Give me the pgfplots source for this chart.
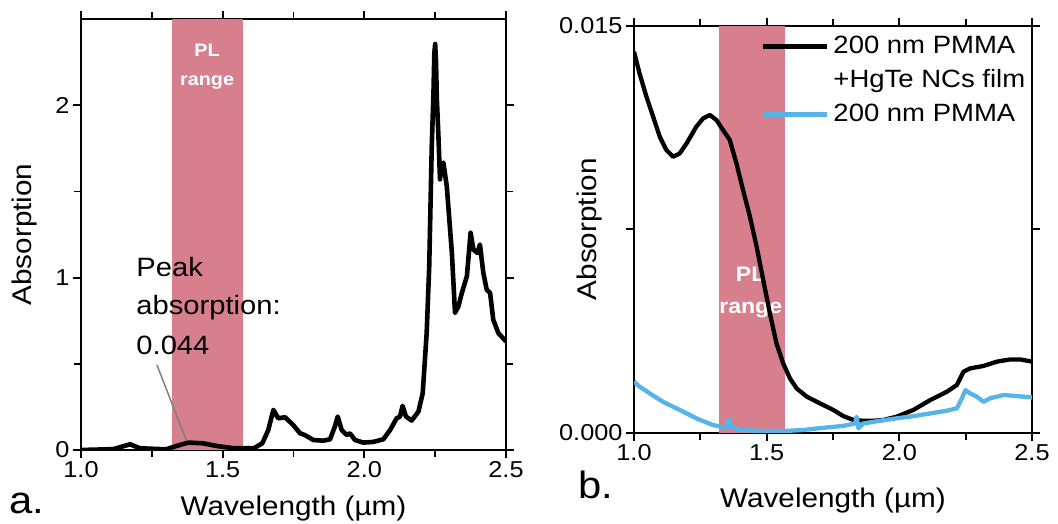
\documentclass[border=0pt]{standalone}
\usepackage{pgfplots}
\pgfplotsset{compat=1.18}
\usepackage{fontspec}
\setmainfont{Liberation Sans}[FakeStretch=1.1]
\definecolor{plcol}{RGB}{216,127,142}
\definecolor{pmma}{RGB}{86,180,233}
\definecolor{annot}{RGB}{128,128,128}

\begin{document}
\begin{tikzpicture}[x=1pt,y=1pt]
\path[use as bounding box] (0,0) rectangle (1058,523);
\pgfplotsset{
 common/.style={
  scale only axis,
  xmin=1, xmax=2.5,
  xtick={1,1.5,2,2.5},
  xticklabels={1.0,1.5,2.0,2.5},
  minor xtick={1.25,1.75,2.25},
  tick align=outside,
  major tick length=8pt, minor tick length=7pt,
  axis line style={line width=1.8pt},
  every tick/.append style={line width=1.8pt, black},
  tick label style={font=\fontsize{23}{27}\selectfont},
  label style={font=\fontsize{27}{32}\selectfont},
  xlabel={Wavelength (µm)},
  ylabel={Absorption},
  clip=true,
 }
}

% ---------------- panel a ----------------
\begin{axis}[common,
  at={(81pt,73pt)}, anchor=south west,
  width=425pt, height=431pt,
  ymin=0, ymax=2.5,
  ytick={0,1,2}, yticklabels={0,1,2},
  minor ytick={0.5,1.5},
  xlabel style={at={(axis description cs:0.5,-0.151)}, anchor=base},
  ylabel style={at={(axis description cs:-0.132,0.5)}, anchor=center},
]
\addplot[draw=none, fill=plcol, forget plot] coordinates {(1.32,2.5) (1.57,2.5)} \closedcycle;
\node[text=white, inner sep=0pt, anchor=base, font=\bfseries\fontsize{18}{20}\selectfont] at (axis cs:1.445,2.28) {PL};
\node[text=white, inner sep=0pt, anchor=base, font=\bfseries\fontsize{18}{20}\selectfont] at (axis cs:1.445,2.116) {range};
\draw[annot, line width=1.5pt] (axis cs:1.268,0.494) -- (axis cs:1.371,0.058);
\node[inner sep=0pt, anchor=base west, font=\fontsize{26.5}{30}\selectfont] at (axis cs:1.195,1.006) {Peak};
\node[inner sep=0pt, anchor=base west, font=\fontsize{26.5}{30}\selectfont] at (axis cs:1.195,0.785) {absorption:};
\node[inner sep=0pt, anchor=base west, font=\fontsize{26.5}{30}\selectfont] at (axis cs:1.195,0.552) {0.044};
\addplot[black, line width=4.6pt, line join=round] coordinates {
(1.000,0.000) (1.114,0.005) (1.173,0.033) (1.208,0.010) (1.300,0.004)
(1.350,0.030) (1.380,0.043) (1.430,0.039) (1.480,0.023) (1.540,0.010)
(1.610,0.010) (1.640,0.039) (1.661,0.116) (1.679,0.233) (1.696,0.184)
(1.720,0.190) (1.749,0.145) (1.773,0.097) (1.790,0.087) (1.820,0.058)
(1.855,0.054) (1.879,0.062) (1.896,0.136) (1.906,0.194) (1.920,0.116)
(1.938,0.087) (1.949,0.097) (1.967,0.058) (1.996,0.043) (2.032,0.047)
(2.067,0.062) (2.091,0.116) (2.114,0.184) (2.126,0.194) (2.135,0.256)
(2.147,0.194) (2.167,0.171) (2.191,0.223) (2.206,0.329) (2.220,0.678)
(2.229,1.066) (2.238,1.764) (2.244,2.070) (2.247,2.300) (2.250,2.355)
(2.253,2.250) (2.256,2.035) (2.262,1.800) (2.267,1.570) (2.272,1.640)
(2.279,1.667) (2.291,1.530) (2.309,1.143) (2.320,0.795) (2.332,0.833)
(2.344,0.910) (2.362,1.008) (2.375,1.260) (2.385,1.163) (2.399,1.143)
(2.408,1.192) (2.420,1.027) (2.432,0.930) (2.444,0.910) (2.455,0.756)
(2.473,0.678) (2.500,0.630)
};
\end{axis}
\node[inner sep=0pt, anchor=base west, font=\fontsize{38}{40}\selectfont] at (9,10) {a.};

% ---------------- panel b ----------------
\begin{axis}[common,
  at={(634pt,90.3pt)}, anchor=south west,
  width=398pt, height=407pt,
  ymin=0, ymax=0.015,
  ytick={0,0.0075,0.015}, yticklabels={0.000,,0.015},
  scaled y ticks=false,
  xlabel style={at={(axis description cs:0.5,-0.185)}, anchor=base},
  ylabel style={at={(axis description cs:-0.111,0.5)}, anchor=center},
  legend image code/.code={\draw[#1] (0pt,0pt) -- (64pt,0pt);},
  legend cell align=left,
  legend style={draw=none, fill=none, inner sep=0pt,
    at={(axis description cs:0.319,0.985)}, anchor=north west,
    font=\fontsize{25}{28}\selectfont,
    nodes={inner sep=2pt, text height=19pt, text depth=6pt},
    row sep=5pt, column sep=2pt},
]
\addplot[draw=none, fill=plcol, forget plot] coordinates {(1.32,0.015) (1.57,0.015)} \closedcycle;
\node[text=white, inner sep=0pt, anchor=base, font=\bfseries\fontsize{21}{24}\selectfont] at (axis cs:1.44,0.005565) {PL};
\node[text=white, inner sep=0pt, anchor=base, font=\bfseries\fontsize{21}{24}\selectfont] at (axis cs:1.44,0.0044) {range};
\addplot[black, line width=4.3pt, line join=round] coordinates {
(1.000,0.01404) (1.021,0.01324) (1.047,0.01238) (1.072,0.01165) (1.097,0.01091)
(1.122,0.01042) (1.147,0.01017) (1.172,0.01029) (1.198,0.01066) (1.235,0.01128)
(1.260,0.01158) (1.286,0.01171) (1.311,0.01152) (1.336,0.01115) (1.361,0.01079)
(1.386,0.00993) (1.411,0.00894) (1.437,0.00796) (1.462,0.00686) (1.487,0.00563)
(1.512,0.00440) (1.537,0.00329) (1.562,0.00256) (1.588,0.00200) (1.613,0.00163)
(1.651,0.00133) (1.701,0.00108) (1.751,0.00084) (1.789,0.00061) (1.827,0.00047)
(1.864,0.00044) (1.902,0.00044) (1.940,0.00047) (1.990,0.00059) (2.053,0.00084)
(2.116,0.00120) (2.179,0.00151) (2.217,0.00176) (2.242,0.00225) (2.267,0.00237)
(2.317,0.00246) (2.368,0.00262) (2.418,0.00270) (2.456,0.00270) (2.500,0.00262)
};
\addlegendentry{200 nm PMMA}
\addlegendimage{empty legend}
\addlegendentry{+HgTe NCs film}
\addplot[pmma, line width=4.3pt, line join=round] coordinates {
(1.000,0.00188) (1.021,0.00170) (1.059,0.00145) (1.109,0.00114) (1.172,0.00084)
(1.235,0.00053) (1.298,0.00028) (1.349,0.00018) (1.357,0.00050) (1.367,0.00020)
(1.411,0.00010) (1.487,0.00006) (1.562,0.00006) (1.638,0.00010) (1.713,0.00018)
(1.789,0.00025) (1.833,0.00034) (1.839,0.00059) (1.846,0.00016) (1.864,0.00034)
(1.927,0.00044) (1.990,0.00053) (2.053,0.00061) (2.116,0.00071) (2.179,0.00081)
(2.217,0.00090) (2.236,0.00127) (2.249,0.00157) (2.267,0.00145) (2.292,0.00133)
(2.317,0.00114) (2.343,0.00127) (2.393,0.00139) (2.443,0.00135) (2.500,0.00130)
};
\addlegendentry{200 nm PMMA}
\end{axis}
\node[inner sep=0pt, anchor=base west, font=\fontsize{38}{40}\selectfont] at (578,25) {b.};
\end{tikzpicture}
\end{document}
